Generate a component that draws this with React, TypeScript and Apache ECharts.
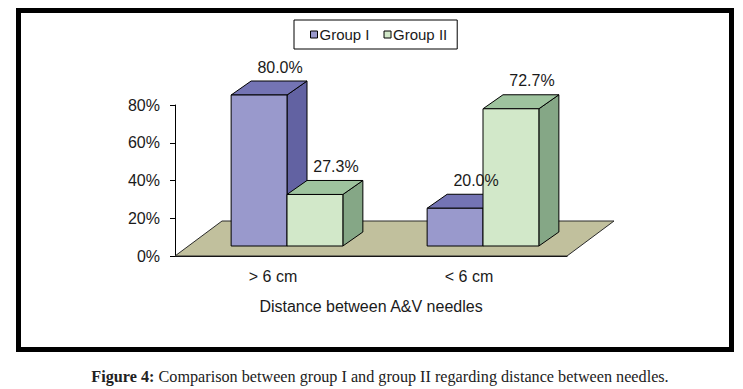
import React, { useEffect, useRef } from 'react';
import * as echarts from 'echarts';

const categories = ['> 6 cm', '< 6 cm'];
const parentCategory = ['Distance between A&V needles'];
const seriesNames = ['Group I', 'Group II'];
const groupI = [80.0, 20.0];
const groupII = [27.3, 72.7];
const yTicks = [0, 20, 40, 60, 80];
const caption = 'Comparison between group I and group II regarding distance between needles.';

const FRONT = { dx: 14, dy: -10 };
const DEPTH = { dx: 20, dy: -14 };
const FLOOR = { dx: 47, dy: -35 };
const BAR_RATIO = 0.285;
const SANS = '"Liberation Sans", Arial, sans-serif';
const TXT = '#1a1a1a';

const palettes = [
  { front: '#9999cc', top: '#7474b4', side: '#6262a2' },
  { front: '#d2e8c9', top: '#9ec39e', side: '#85a786' },
];

function barGeom(api: any, seriesIdx: number) {
  const cat = api.value(0);
  const val = api.value(1);
  const top = api.coord([cat, val]);
  const base = api.coord([cat, 0]);
  const band = api.size([1, 0])[0];
  const w = band * BAR_RATIO;
  const x0 = top[0] - (seriesIdx === 0 ? w : 0) + FRONT.dx;
  return { x0, x1: x0 + w, w, yb: base[1] + FRONT.dy, yt: top[1] + FRONT.dy, val };
}

function makeBarRender(seriesIdx: number) {
  return (_params: any, api: any) => {
    const g = barGeom(api, seriesIdx);
    const p = palettes[seriesIdx];
    const { dx, dy } = DEPTH;
    const st = { stroke: '#000', lineWidth: 1 };
    return {
      type: 'group',
      children: [
        { type: 'polygon', shape: { points: [[g.x1, g.yb], [g.x1 + dx, g.yb + dy], [g.x1 + dx, g.yt + dy], [g.x1, g.yt]] }, style: { fill: p.side, ...st } },
        { type: 'polygon', shape: { points: [[g.x0, g.yt], [g.x1, g.yt], [g.x1 + dx, g.yt + dy], [g.x0 + dx, g.yt + dy]] }, style: { fill: p.top, ...st } },
        { type: 'rect', shape: { x: g.x0, y: g.yt, width: g.w, height: g.yb - g.yt }, style: { fill: p.front, ...st } },
      ],
    };
  };
}

function labelRender(_params: any, api: any) {
  const sIdx = api.value(2);
  const g = barGeom(api, sIdx);
  return {
    type: 'text',
    x: g.x0 + DEPTH.dx + g.w / 2 + 1,
    y: g.yt + DEPTH.dy - 14,
    style: {
      text: g.val.toFixed(1) + '%',
      fill: TXT,
      font: '16px ' + SANS,
      align: 'center',
      verticalAlign: 'middle',
    },
  };
}

function floorRender(_params: any, api: any) {
  const left = api.coord([0, 0]);
  const right = api.coord([categories.length - 1, 0]);
  const band = api.size([1, 0])[0];
  const x0 = left[0] - band / 2;
  const x1 = right[0] + band / 2;
  const y = left[1];
  return {
    type: 'polygon',
    shape: { points: [[x0, y], [x1, y], [x1 + FLOOR.dx, y + FLOOR.dy], [x0 + FLOOR.dx, y + FLOOR.dy]] },
    style: { fill: '#c1c09d', stroke: '#2a2a2a', lineWidth: 1 },
  };
}

export default function App() {
  const ref = useRef<HTMLDivElement>(null);
  useEffect(() => {
    if (!ref.current) return;
    const chart = echarts.init(ref.current, undefined, { renderer: 'svg' });
    const labelData: any[] = [];
    groupI.forEach((v, i) => labelData.push([i, v, 0]));
    groupII.forEach((v, i) => labelData.push([i, v, 1]));
    chart.setOption({
      animation: false,
      backgroundColor: '#ffffff',
      grid: { left: 175, top: 105, right: 176, bottom: 133, containLabel: false },
      legend: {
        data: seriesNames,
        left: 294,
        top: 20,
        icon: 'rect',
        itemWidth: 7,
        itemHeight: 7,
        itemGap: 14,
        borderColor: '#000',
        borderWidth: 1,
        padding: [7, 10, 7, 16],
        itemStyle: { borderColor: '#000', borderWidth: 1 },
        textStyle: { fontSize: 15, color: TXT, fontFamily: SANS, padding: [0, 0, 0, -3] },
      },
      xAxis: [
        {
          type: 'category',
          data: categories,
          axisLine: { lineStyle: { color: '#000', width: 1 } },
          axisTick: { length: 31, lineStyle: { color: '#000' } },
          axisLabel: { margin: 12, fontSize: 16, color: TXT, fontFamily: SANS },
        },
        {
          type: 'category',
          data: parentCategory,
          position: 'bottom',
          offset: 30,
          axisLine: { show: false },
          axisTick: { length: 30, lineStyle: { color: '#000' } },
          axisLabel: { margin: 12, fontSize: 16, color: TXT, fontFamily: SANS },
        },
      ],
      yAxis: {
        type: 'value',
        min: yTicks[0],
        max: yTicks[yTicks.length - 1],
        interval: yTicks[1] - yTicks[0],
        axisLine: { show: true, lineStyle: { color: '#000' } },
        axisTick: { show: true, length: 5, lineStyle: { color: '#000' } },
        splitLine: { show: false },
        axisLabel: { formatter: '{value}%', margin: 15, fontSize: 16, color: TXT, fontFamily: SANS },
      },
      series: [
        { type: 'custom', name: 'floor', renderItem: floorRender, data: [[0, 0]], z: 1, silent: true },
        {
          type: 'custom', name: seriesNames[0], renderItem: makeBarRender(0),
          data: groupI.map((v, i) => [i, v]), itemStyle: { color: palettes[0].front }, z: 2,
        },
        {
          type: 'custom', name: seriesNames[1], renderItem: makeBarRender(1),
          data: groupII.map((v, i) => [i, v]), itemStyle: { color: palettes[1].front }, z: 3,
        },
        { type: 'custom', name: 'labels', renderItem: labelRender, data: labelData, z: 4, silent: true },
      ],
      graphic: [
        {
          type: 'rect',
          shape: { x: 18.5, y: 10.5, width: 713, height: 339 },
          style: { fill: 'none', stroke: '#000', lineWidth: 5 },
          silent: true,
        },
        {
          type: 'text',
          x: 380,
          y: 377,
          style: {
            text: '{b|Figure 4:} ' + caption,
            rich: { b: { fontWeight: 'bold', fontFamily: '"Liberation Serif", serif', fontSize: 16.2, fill: '#222' } },
            font: '16.2px "Liberation Serif", serif',
            fill: '#222',
            align: 'center',
            verticalAlign: 'middle',
          },
          silent: true,
        },
      ],
    });
    return () => chart.dispose();
  }, []);
  return <div ref={ref} style={{ position: 'absolute', left: 0, top: 0, width: 743, height: 389 }} />;
}
